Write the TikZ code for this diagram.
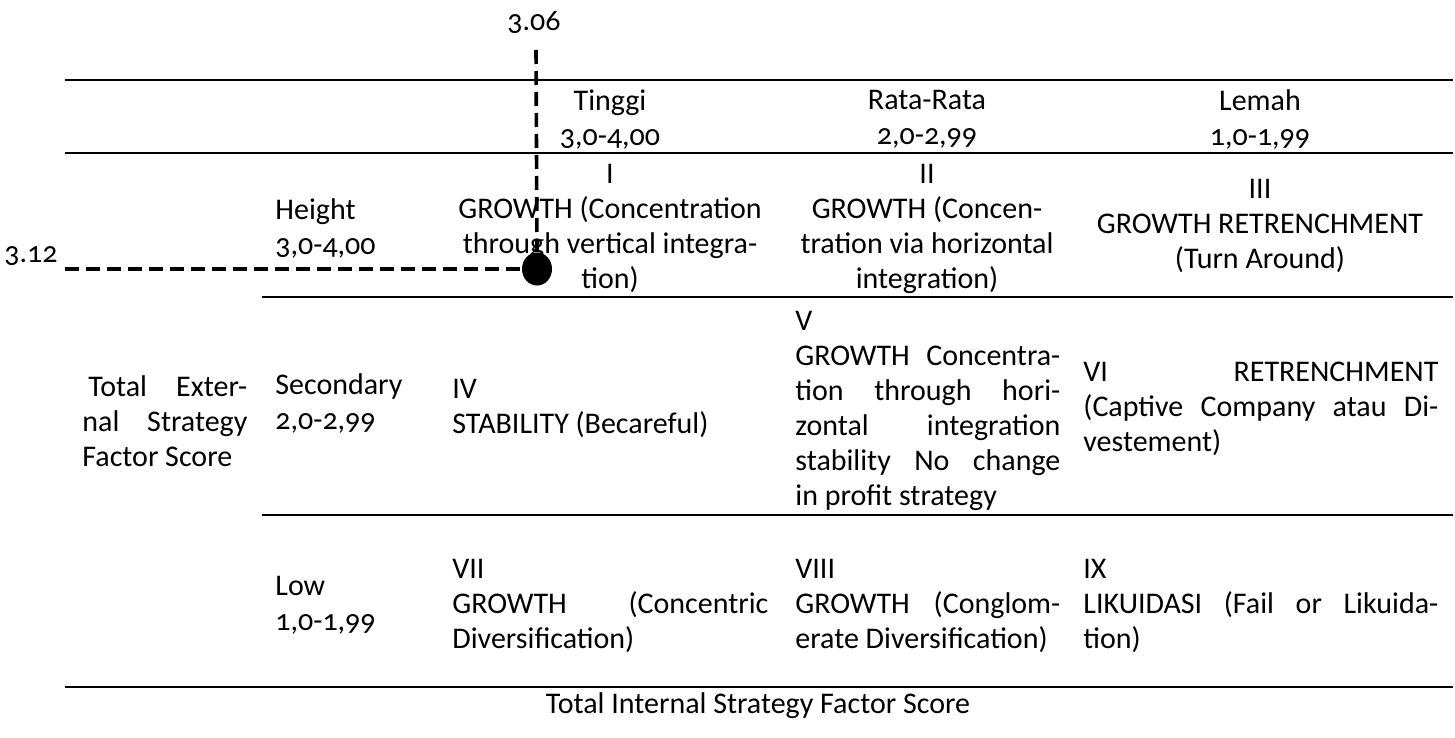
\documentclass[tikz,border=0pt]{standalone}
\usepackage{fontspec}
\setmainfont{Carlito}[Numbers=OldStyle]
\usetikzlibrary{shapes.geometric}

\begin{document}
\begin{tikzpicture}[x=0.5pt, y=-0.5pt, font=\fontsize{15}{17.5}\selectfont,
    rule/.style={line width=1.2pt},
    guide/.style={line width=1.8pt, dash pattern=on 7pt off 3.5pt},
    cell/.style={inner sep=0pt, anchor=north west, align=justify,
      execute at begin node={\pretolerance=10000\tolerance=10000\strut}},
    mid/.style={inner sep=0pt, anchor=north, align=center,
      execute at begin node=\strut},
    dot/.style={ellipse, fill, minimum width=15pt, minimum height=16.5pt, inner sep=0pt}]
    \useasboundingbox (0,0) rectangle (1455,738);

    % table rules
    \draw[rule] (65,80) -- (1453,80);
    \draw[rule] (65,153) -- (1453,153);
    \draw[rule] (262,297) -- (1453,297);
    \draw[rule] (262,515) -- (1453,515);
    \draw[rule] (65,687) -- (1453,687);

    % column heads
    \node[mid] (h1) at (610,89.5) {Tinggi\\3,0-4,00};
    \node[mid] (h2) at (927,89.5) {Rata-Rata\\2,0-2,99};
    \node[mid] (h3) at (1260,89.5) {Lemah\\1,0-1,99};

    % row heads
    \node[cell, align=left] (r1) at (275,198.5) {Height\\3,0-4,00};
    \node[cell, align=left] (r2) at (275,373.5) {Secondary\\2,0-2,99};
    \node[cell, align=left] (r3) at (275,575.5) {Low\\1,0-1,99};
    \node[cell, text width=82.5pt] (ext) at (82,372)
        {\hspace*{3pt}Total Exter-\linebreak nal Strategy\linebreak Factor Score};

    % cells
    \node[mid] (c1) at (610,163.5) {I\\GROWTH (Concentration\\through vertical integra-\\tion)};
    \node[mid] (c2) at (927,163.5) {II\\GROWTH (Concen-\\tration via horizontal\\integration)};
    \node[mid] (c3) at (1260,179) {III\\GROWTH RETRENCHMENT\\(Turn Around)};
    \node[cell, text width=158pt] (c4) at (452,373.5) {IV\\STABILITY (Becareful)};
    \node[cell, text width=132.5pt] (c5) at (795,306)
        {V\\GROWTH Concentra-\linebreak tion through hori-\linebreak zontal integration\linebreak stability No change\linebreak in profit strategy};
    \node[cell, text width=177.5pt] (c6) at (1083,357)
        {VI RETRENCHMENT\linebreak (Captive Company atau Di-\linebreak vestement)};
    \node[cell, text width=158pt] (c7) at (452,554)
        {VII\\GROWTH (Concentric\linebreak Diversification)};
    \node[cell, text width=132.5pt] (c8) at (795,554)
        {VIII\\GROWTH (Conglom-\linebreak erate Diversification)};
    \node[cell, text width=177.5pt] (c9) at (1083,554)
        {IX\\LIKUIDASI (Fail or Likuida-\linebreak tion)};

    \node[mid] (ifas) at (758,689) {Total Internal Strategy Factor Score};

    % position of the company
    \node (v306) at (534,22) {3.06};
    \node (v312) at (31,256) {3.12};
    \coordinate (vtop) at (536,50);
    \coordinate (hleft) at (65,269);
    \node[dot] (pt) at (537,269) {};
    \draw[guide] (vtop) -- (pt.north);
    \draw[guide] (hleft) -- (pt.west);
\end{tikzpicture}
\end{document}
